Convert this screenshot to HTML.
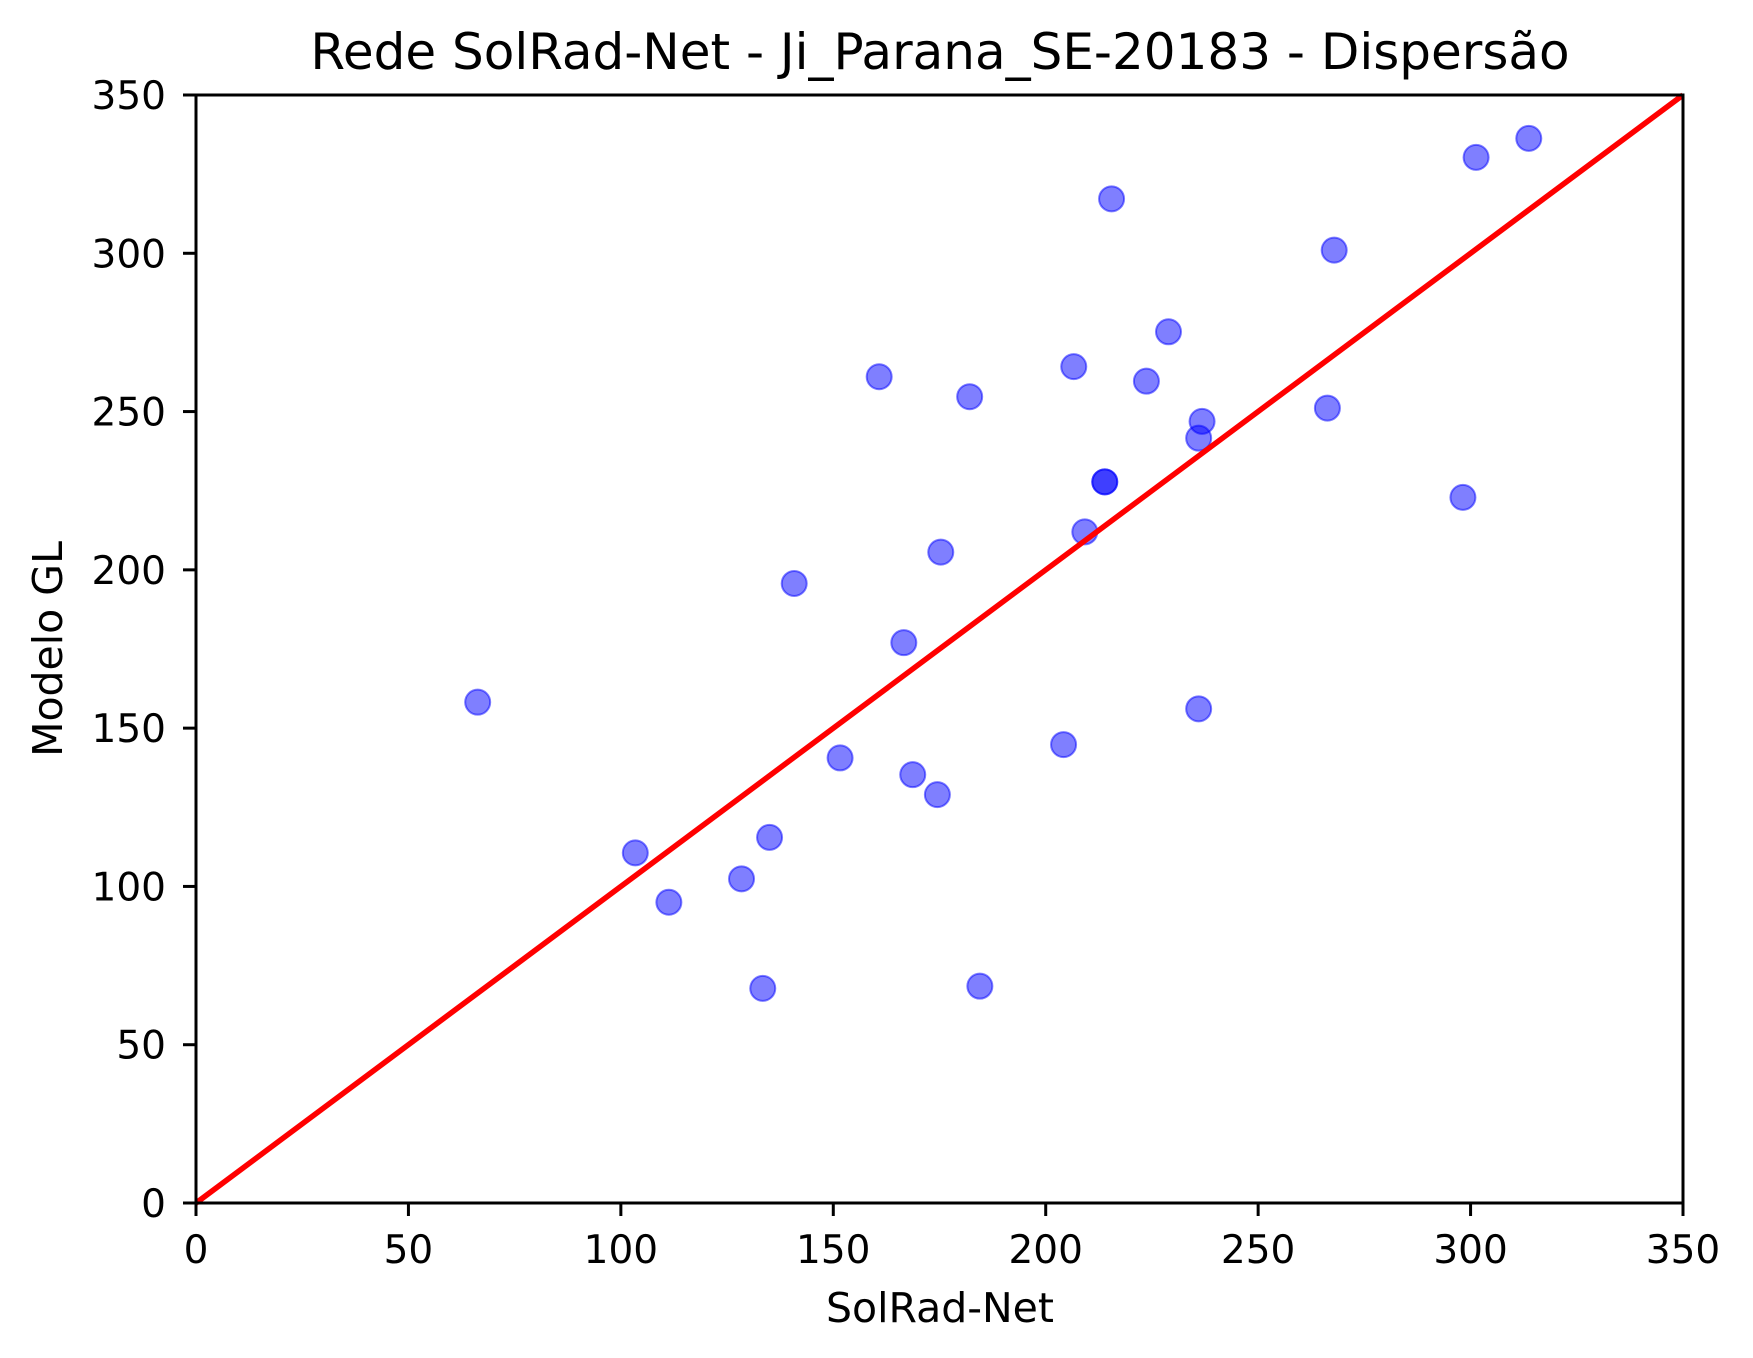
<!DOCTYPE html>
<html><head><meta charset="utf-8"><style>
html,body{margin:0;padding:0;background:#fff;}
svg{display:block;font-family:"DejaVu Sans","Liberation Sans",sans-serif;}
</style></head><body>
<svg id="chart" width="1753" height="1358" viewBox="0 0 1753 1358" xmlns="http://www.w3.org/2000/svg">
<rect width="1753" height="1358" fill="#fff"/>
<text x="940" y="69" font-size="50" text-anchor="middle">Rede SolRad-Net - Ji_Parana_SE-20183 - Dispersão</text>
<text x="940" y="1322" font-size="41" text-anchor="middle">SolRad-Net</text>
<text x="0" y="0" font-size="41" text-anchor="middle" transform="translate(62,649) rotate(-90)">Modelo GL</text>
<g id="ticks"></g>
<g id="marks"></g>
<rect x="196" y="95" width="1487" height="1108" fill="none" stroke="#000" stroke-width="3"/>
</svg>
<script>
const xVals=[66.3,103.4,111.3,128.4,133.4,135,140.8,151.6,160.8,166.6,168.7,174.5,175.3,182.1,184.5,204.2,206.6,209.2,213.9,213.9,215.5,223.7,228.9,236,236,236.8,266.3,267.9,298.2,301.3,313.7];
const yVals=[158.2,110.6,95,102.4,67.8,115.5,195.7,140.6,261,177,135.3,129,205.6,254.7,68.5,144.8,264.2,212,227.8,227.8,317.2,259.6,275.2,156.1,241.6,246.9,251.1,301,222.9,330.3,336.3];
const xTicks=[0,50,100,150,200,250,300,350];
const yTicks=[0,50,100,150,200,250,300,350];
const L=196,R=1683,T=95,B=1203,MAX=350;
const sx=v=>L+(R-L)*v/MAX, sy=v=>B-(B-T)*v/MAX;
const NS="http://www.w3.org/2000/svg";
const tg=document.getElementById('ticks'), mg=document.getElementById('marks');
function mk(tag,attrs,parent){const e=document.createElementNS(NS,tag);for(const k in attrs)e.setAttribute(k,attrs[k]);parent.appendChild(e);return e;}
xTicks.forEach(t=>{
  const l=mk('line',{x1:sx(t),x2:sx(t),y1:B,y2:B+13,stroke:'#000','stroke-width':3},tg);
  
  
  const tx=mk('text',{x:sx(t),y:1263,'font-size':39,'text-anchor':'middle'},tg);
  tx.textContent=t;
  
  
});
yTicks.forEach(t=>{
  const l=mk('line',{x1:L-13,x2:L,y1:sy(t),y2:sy(t),stroke:'#000','stroke-width':3},tg);
  
  
  const tx=mk('text',{x:166,y:sy(t)+14,'font-size':39,'text-anchor':'end'},tg);
  tx.textContent=t;
  
  
});
xVals.forEach((x,i)=>{
  const c=mk('circle',{cx:sx(x),cy:sy(yVals[i]),r:12.5,fill:'rgba(0,0,255,0.5)',stroke:'rgba(0,0,255,0.5)','stroke-width':2},mg);
  
  
});
const ln=mk('line',{x1:sx(0),y1:sy(0),x2:sx(MAX),y2:sy(MAX),stroke:'#ff0000','stroke-width':5.5},mg);


</script>
</body></html>
